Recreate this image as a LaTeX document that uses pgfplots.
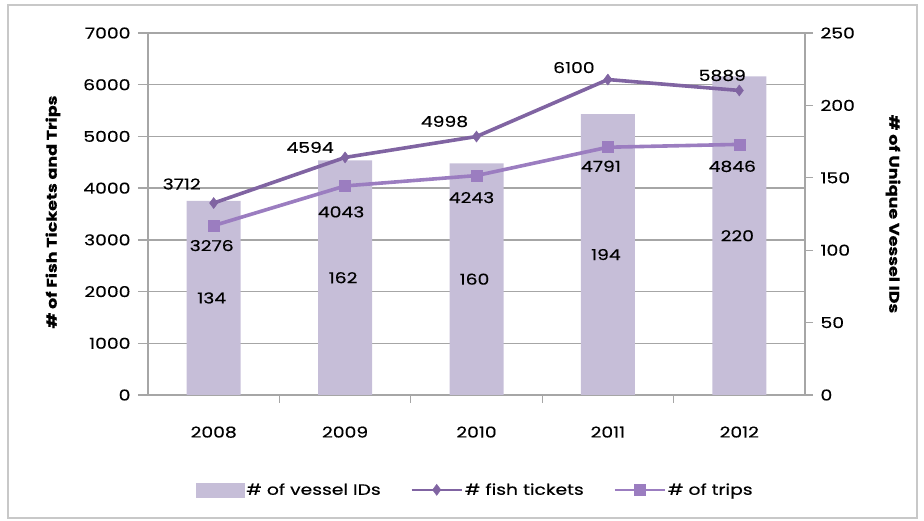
\documentclass[border=0pt]{standalone}
\usepackage{pgfplots}
\pgfplotsset{compat=1.18}
\usepackage{fontspec}
\setmainfont{Poppins}[FakeStretch=1.25, FakeBold=0.4]
\definecolor{barcol}{RGB}{198,190,216}
\definecolor{fishcol}{RGB}{128,100,162}
\definecolor{tripcol}{RGB}{155,125,192}
\definecolor{gridcol}{RGB}{166,166,166}
\definecolor{framecol}{RGB}{200,200,200}
\pgfplotsset{
  mylegline/.style={legend image code/.code={\draw[##1, line width=2pt, mark repeat=2, mark phase=2] plot coordinates {(0pt,0pt) (25pt,0pt) (50pt,0pt)};}},
  base/.style={
    scale only axis, width=657pt, height=362pt,
    xmin=-0.5, xmax=4.5,
    font=\fontsize{15}{17}\selectfont,
    /pgf/number format/assume math mode=true,
    /pgf/number format/set thousands separator={},
  }
}
\begin{document}
\begin{tikzpicture}
\useasboundingbox (-148pt,-126pt) rectangle (776pt,395pt);
\draw[framecol, line width=1.2pt] (-140pt,-123pt) rectangle (769pt,390pt);
% axis 1: grid, left axis, x axis
\begin{axis}[base,
  ymin=0, ymax=7000, ytick={0,1000,...,7000},
  ymajorgrids, grid style={gridcol, line width=1.3pt},
  axis y line*=left, axis x line*=bottom,
  axis line style={gridcol, line width=1.3pt, -},
  xtick={0,1,2,3,4}, xticklabels={2008,2009,2010,2011,2012},
  minor xtick={0.5,1.5,2.5,3.5},
  tick align=outside,
  major tick length=10pt, minor tick length=8pt,
  x tick style={draw=none},
  minor x tick style={draw=gridcol, line width=1.3pt},
  y tick style={draw=gridcol, line width=1.3pt},
  xticklabel style={yshift=-18pt},
  yticklabel style={xshift=-4pt},
]
\addplot[draw=none] coordinates {(0,0)};
\end{axis}
% axis 2: bars, right axis
\begin{axis}[base,
  ymin=0, ymax=250, ytick={0,50,...,250},
  axis y line*=right, axis x line=none,
  axis line style={gridcol, line width=1.3pt, -},
  tick align=outside, major tick length=8pt,
  y tick style={draw=gridcol, line width=1.3pt},
  yticklabel style={xshift=4pt},
]
\addplot[ybar, bar width=54pt, fill=barcol, draw=none,
  nodes near coords,
  visualization depends on={rawy\as\ry},
  every node near coord/.append style={anchor=center, font=\fontsize{15}{17}\selectfont, xshift=-2pt, yshift={-0.724*\ry}},
] coordinates {(0,134) (1,162) (2,160) (3,194) (4,220)};
\end{axis}
% axis 3: lines
\begin{axis}[base,
  ymin=0, ymax=7000, axis lines=none,
  legend columns=3,
  legend style={at={(0.498,-0.262)}, anchor=center, draw=none, fill=none,
    font=\fontsize{15}{17}\selectfont,
    /tikz/every even column/.append style={column sep=28pt}},
]
\addlegendimage{legend image code/.code={\fill[barcol] (0pt,-7pt) rectangle (48pt,7pt);}}
\addlegendentry{\# of vessel IDs}
\addplot[fishcol, line width=3.6pt, mark=diamond*, mark size=5.5pt,
  mark options={solid, fill=fishcol, line width=0.5pt},
  mylegline,
  nodes near coords,
  visualization depends on={value \thisrow{dx}\as\dx},
  visualization depends on={value \thisrow{dy}\as\dy},
  every node near coord/.append style={anchor=center, text=black, font=\fontsize{15}{17}\selectfont, xshift=\dx pt, yshift=\dy pt},
] table {
x y dx dy
0 3712 -32 19
1 4594 -35 10
2 4998 -32 15
3 6100 -34 12
4 5889 -17 15
};
\addlegendentry{\# fish tickets}
\addplot[tripcol, line width=3.6pt, mark=square*, mark size=5.5pt,
  mark options={solid, fill=tripcol, line width=0.5pt},
  mylegline,
  nodes near coords,
  visualization depends on={value \thisrow{dx}\as\dx},
  visualization depends on={value \thisrow{dy}\as\dy},
  every node near coord/.append style={anchor=center, text=black, font=\fontsize{15}{17}\selectfont, xshift=\dx pt, yshift=\dy pt},
] table {
x y dx dy
0 3276 -2 -20
1 4043 -4 -26
2 4243 -5 -22
3 4791 -7 -19
4 4846 -7 -22
};
\addlegendentry{\# of trips}
\end{axis}
\node[rotate=90, font=\bfseries\fontsize{14}{16}\selectfont] at (-95pt,183pt) {\# of Fish Tickets and Trips};
\node[rotate=-90, font=\bfseries\fontsize{14}{16}\selectfont] at (745pt,181pt) {\# of Unique Vessel IDs};
\end{tikzpicture}
\end{document}
